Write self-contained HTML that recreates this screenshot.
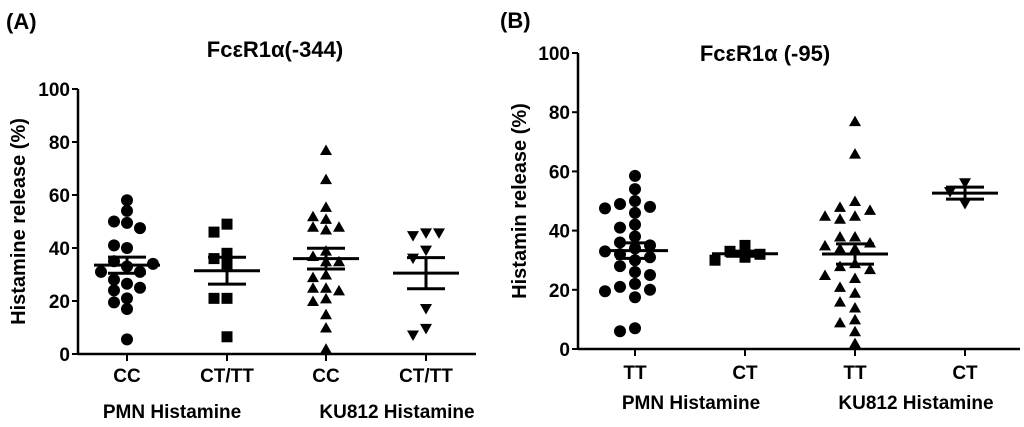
<!DOCTYPE html>
<html><head><meta charset="utf-8"><style>
body{margin:0;background:#fff}
svg{display:block;font-family:"Liberation Sans",Arial,sans-serif;font-weight:bold}
</style></head><body>
<svg id="c" width="1024" height="427" viewBox="0 0 1024 427"></svg>
<script>
const yTicks=[0,20,40,60,80,100];
const catsA=["CC","CT/TT","CC","CT/TT"];
const catsB=["TT","CT","TT","CT"];
const groupsLbl=["PMN Histamine","KU812 Histamine"];
const a1=[5.5,17,19.5,21,24,26.5,25,28,33,31,31,35,34,40,41,49.5,50,47.5,54,58];
const a2=[49,46,38,36,34,21,21,6.5];
const a3=[77,66,55.5,51,52,48,47,48,39,35,37,35,30,29,25,25,24,21,20,15,10,2];
const a4=[45.5,44.5,45.5,39,36,17,9.5,7];
const b1=[58.5,54,50,49,48,47.5,46,42,41,38,36,35,34,33,32,31,30,28,26,25,22,21,20,19.5,17.5,7,6];
const b2=[35,33,32,31,30];
const b3=[77,66,50,48,47,45,44,45,38,38,36,35,34,34,29,28,27,24,25,21,19,16,14,10,9,6,2];
const b4=[56,53,49];
const shapes=["circle","square","up","down"];
const NS="http://www.w3.org/2000/svg";
const svg=document.getElementById('c');
function mk(t,at,par){const e=document.createElementNS(NS,t);for(const k in at)e.setAttribute(k,at[k]);(par||svg).appendChild(e);return e;}
function panel(p){
  const g=mk('g',{});
  
  
  const y=v=>p.y0-(p.y0-p.y100)*v/100;
  const x=i=>p.xs[i];
  let t=mk('text',{x:p.lx,y:p.ly,'font-size':22},g);t.textContent=p.letter;
  
  t=mk('text',{x:p.tx,y:p.ty,'font-size':22,'text-anchor':'middle'},g);t.textContent=p.title;
  
  t=mk('text',{x:0,y:0,'font-size':20,'text-anchor':'middle',transform:`translate(${p.yl},${(p.y0+p.y100)/2}) rotate(-90)`},g);t.textContent=p.ytitle;
  
  let l=mk('line',{x1:p.ax,x2:p.ax,y1:p.y100,y2:p.y0+1,stroke:'#000','stroke-width':2.5},g);
  
  l=mk('line',{x1:p.ax,x2:p.xe,y1:p.y0,y2:p.y0,stroke:'#000','stroke-width':2.5},g);
  
  yTicks.forEach(v=>{mk('line',{x1:p.ax-6,x2:p.ax,y1:y(v),y2:y(v),stroke:'#000','stroke-width':2},g);
    const tt=mk('text',{x:p.ax-8,y:y(v)+7,'font-size':19,'text-anchor':'end'},g);tt.textContent=v;
    });
  p.cats.forEach((c,i)=>{mk('line',{x1:x(i),x2:x(i),y1:p.y0,y2:p.y0+7,stroke:'#000','stroke-width':2},g);
    const tt=mk('text',{x:x(i),y:p.cy,'font-size':19,'text-anchor':'middle'},g);tt.textContent=c;
    });
  groupsLbl.forEach((s,i)=>{const tt=mk('text',{x:p.gx[i],y:p.gy,'font-size':19,'text-anchor':'middle'},g);tt.textContent=s;
    });
  p.data.forEach((d,i)=>{
    const sg=mk('g',{},g);
    
    
    const placed=[];
    d.forEach(v=>{
      const py=y(v);let off=null,best=-1,bo=0;
      for(const k of [0,-1,1,-2,2]){const ox=k*p.sp;
        const dm=placed.reduce((m,q)=>Math.min(m,Math.hypot(q[0]-ox,q[1]-py)),1e9);
        if(dm>=10){off=ox;break;} if(dm>best){best=dm;bo=ox;}}
      if(off===null)off=bo;
      placed.push([off,py]);
      const cx=x(i)+off;let m;const s=shapes[i];
      if(s==='circle')m=mk('circle',{cx:cx,cy:py,r:6},sg);
      else if(s==='square')m=mk('rect',{x:cx-5.5,y:py-5.5,width:11,height:11},sg);
      else if(s==='up')m=mk('polygon',{points:`${cx-6},${py+5} ${cx+6},${py+5} ${cx},${py-5.5}`},sg);
      else m=mk('polygon',{points:`${cx-6},${py-5} ${cx+6},${py-5} ${cx},${py+5.5}`},sg);
      m.setAttribute('fill','#000');
      
      
    });
    const n=d.length,mean=d.reduce((a,b)=>a+b,0)/n;
    const sd=Math.sqrt(d.reduce((a,b)=>a+(b-mean)**2,0)/(n-1)),se=sd/Math.sqrt(n);
    let e=mk('line',{x1:x(i)-33,x2:x(i)+33,y1:y(mean),y2:y(mean),stroke:'#000','stroke-width':3},sg);
    
    e=mk('line',{x1:x(i),x2:x(i),y1:y(mean+se),y2:y(mean-se),stroke:'#000','stroke-width':3},sg);
    
    [mean+se,mean-se].forEach(v=>{const c=mk('line',{x1:x(i)-19,x2:x(i)+19,y1:y(v),y2:y(v),stroke:'#000','stroke-width':3},sg);
      });
  });
}
panel({name:'panel-a',letter:'(A)',lx:6,ly:29,title:'FcεR1α(-344)',tx:275,ty:57,ytitle:'Histamine release (%)',yl:25,
  ax:78,xe:476,y0:354,y100:89,xs:[127,227,326,426],cats:catsA,cy:382,gx:[172,397],gy:418,sp:13,data:[a1,a2,a3,a4]});
panel({name:'panel-b',letter:'(B)',lx:500,ly:28,title:'FcεR1α (-95)',tx:765,ty:61,ytitle:'Histamin release (%)',yl:526,
  ax:578,xe:1020,y0:349,y100:53,xs:[635,745,855,965],cats:catsB,cy:379,gx:[691,916],gy:409,sp:15,data:[b1,b2,b3,b4]});
</script>
</body></html>
